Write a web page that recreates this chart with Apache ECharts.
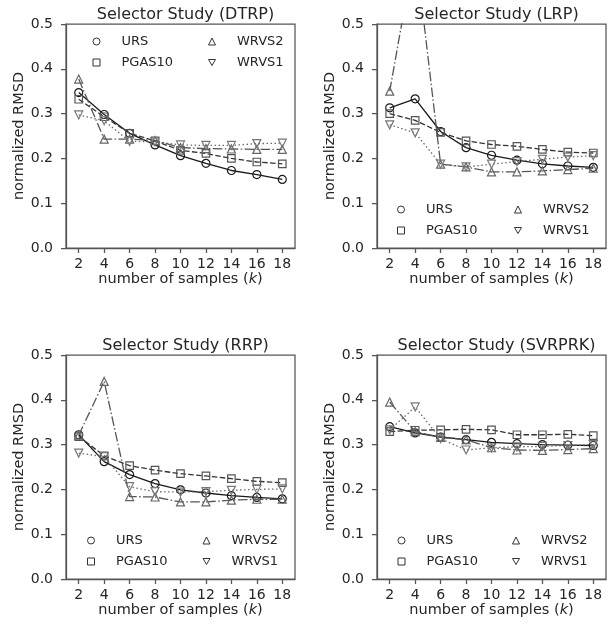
<!DOCTYPE html>
<html>
<head>
<meta charset="utf-8">
<script src="https://cdn.jsdelivr.net/npm/echarts@6/dist/echarts.min.js"></script>
<style>
html,body{margin:0;padding:0;background:#fff;}
#main{width:616px;height:629px;}
</style>
</head>
<body>
<div id="main"></div>
<script>
// ---- data ----
const xCats = ['2','4','6','8','10','12','14','16','18'];
const yTicks = [0.0, 0.1, 0.2, 0.3, 0.4, 0.5];
const seriesNames = ['URS','PGAS10','WRVS2','WRVS1'];
const panelTitles = ['Selector Study (DTRP)','Selector Study (LRP)','Selector Study (RRP)','Selector Study (SVRPRK)'];

const dtrpURS    = [0.347, 0.298, 0.256, 0.230, 0.206, 0.189, 0.173, 0.164, 0.153];
const dtrpPGAS10 = [0.332, 0.293, 0.256, 0.239, 0.218, 0.211, 0.200, 0.192, 0.188];
const dtrpWRVS2  = [0.377, 0.243, 0.243, 0.240, 0.224, 0.222, 0.221, 0.220, 0.220];
const dtrpWRVS1  = [0.297, 0.284, 0.238, 0.237, 0.230, 0.229, 0.229, 0.233, 0.234];

const lrpURS    = [0.313, 0.333, 0.260, 0.224, 0.207, 0.196, 0.188, 0.183, 0.180];
const lrpPGAS10 = [0.300, 0.285, 0.258, 0.239, 0.231, 0.227, 0.220, 0.214, 0.212];
const lrpWRVS2  = [0.350, 0.670, 0.187, 0.181, 0.170, 0.170, 0.172, 0.175, 0.178];
const lrpWRVS1  = [0.275, 0.257, 0.187, 0.181, 0.187, 0.193, 0.198, 0.203, 0.206];

const rrpURS    = [0.322, 0.262, 0.233, 0.213, 0.199, 0.192, 0.186, 0.182, 0.179];
const rrpPGAS10 = [0.318, 0.275, 0.253, 0.243, 0.235, 0.230, 0.224, 0.218, 0.215];
const rrpWRVS2  = [0.321, 0.441, 0.184, 0.183, 0.172, 0.172, 0.176, 0.178, 0.178];
const rrpWRVS1  = [0.281, 0.273, 0.206, 0.195, 0.194, 0.195, 0.198, 0.200, 0.201];

const svrURS    = [0.340, 0.326, 0.317, 0.311, 0.305, 0.302, 0.300, 0.299, 0.298];
const svrPGAS10 = [0.329, 0.332, 0.333, 0.334, 0.333, 0.322, 0.322, 0.323, 0.320];
const svrWRVS2  = [0.395, 0.329, 0.316, 0.311, 0.293, 0.288, 0.287, 0.289, 0.291];
const svrWRVS1  = [0.333, 0.384, 0.313, 0.288, 0.293, 0.295, 0.296, 0.298, 0.300];

const panelData = [
  [dtrpURS, dtrpPGAS10, dtrpWRVS2, dtrpWRVS1],
  [lrpURS, lrpPGAS10, lrpWRVS2, lrpWRVS1],
  [rrpURS, rrpPGAS10, rrpWRVS2, rrpWRVS1],
  [svrURS, svrPGAS10, svrWRVS2, svrWRVS1]
];

// ---- styles / layout ----
const FONT = 'DejaVu Sans';
const TXT = '#262626';
const SPINE = '#555555';
const styles = [
  {symbol:'circle', size:8, line:'#1a1a1a', edge:'#1a1a1a', dash:'solid'},
  {symbol:'rect', size:7.5, line:'#333333', edge:'#555555', dash:[5.5,2.4]},
  {symbol:'triangle', size:8, line:'#555555', edge:'#666666', dash:[9.6,2.4,1.5,2.4]},
  {symbol:'path://M0,0L20,0L10,17.3Z', size:8, line:'#6a6a6a', edge:'#777777', dash:[1.5,2.5]}
];
const grids = [
  {left:66, top:24, width:229, height:224},
  {left:377, top:24, width:229, height:224},
  {left:66, top:355, width:229, height:224},
  {left:377, top:355, width:229, height:224}
];
// legend anchor: [col1 left, col2 left, top]
const legendPos = [
  [92.5, 208, 35],
  [397, 514, 203],
  [87, 202.5, 534],
  [397.5, 512, 534]
];

const option = {
  backgroundColor:'#fff',
  animation:false,
  title:[], grid:[], xAxis:[], yAxis:[], series:[], legend:[]
};

grids.forEach((g, i) => {
  option.grid.push(Object.assign({show:true, borderColor:SPINE, borderWidth:1.25, backgroundColor:'transparent'}, g));
  option.title.push({
    text: panelTitles[i], left: g.left + g.width/2, top: g.top - 22, textAlign:'center',
    textStyle:{fontFamily:FONT, fontSize:16, fontWeight:'normal', color:TXT}
  });
  option.xAxis.push({
    type:'category', gridIndex:i, data:xCats, boundaryGap:true,
    name:'number of samples ({it|k})', nameLocation:'middle', nameGap:20,
    nameTextStyle:{fontFamily:FONT, fontSize:14.5, color:TXT,
      rich:{it:{fontStyle:'italic', fontFamily:FONT, fontSize:14.5, color:TXT}}},
    axisLine:{show:true, lineStyle:{color:SPINE, width:1.25}},
    axisTick:{show:true, alignWithLabel:true, length:5, lineStyle:{color:SPINE, width:1.25}},
    axisLabel:{fontFamily:FONT, fontSize:14, color:TXT, margin:9, interval:0},
    splitLine:{show:false}
  });
  option.yAxis.push({
    type:'value', gridIndex:i, min:0, max:0.5, interval:0.1,
    name:'normalized RMSD', nameLocation:'middle', nameGap:35,
    nameTextStyle:{fontFamily:FONT, fontSize:14.5, color:TXT},
    axisLine:{show:true, lineStyle:{color:SPINE, width:1.25}},
    axisTick:{show:true, length:5, lineStyle:{color:SPINE, width:1.25}},
    axisLabel:{fontFamily:FONT, fontSize:14, color:TXT, margin:13, formatter:v => v.toFixed(1)},
    splitLine:{show:false}
  });
  seriesNames.forEach((nm, s) => {
    const st = styles[s];
    option.series.push({
      type:'line', name:nm, xAxisIndex:i, yAxisIndex:i,
      data: panelData[i][s], clip:true,
      symbol: st.symbol, symbolSize: st.size, showAllSymbol:true,
      lineStyle:{color:st.line, width:1.3, type:st.dash},
      itemStyle:{color:'rgba(255,255,255,0)', borderColor:st.edge, borderWidth:1.2},
      emphasis:{disabled:true}, silent:true, z: 2 + s
    });
  });
  const lp = legendPos[i];
  const mk = (names) => names.map(nm => {
    const st = styles[seriesNames.indexOf(nm)];
    return {name:nm, icon:st.symbol,
      itemStyle:{color:'rgba(255,255,255,0)', borderColor:'#333', borderWidth:1}};
  });
  [[['URS','PGAS10'], lp[0]], [['WRVS2','WRVS1'], lp[1]]].forEach(([names, left]) => {
    option.legend.push({
      orient:'vertical', left:left, top:lp[2], itemWidth:7, itemHeight:7, itemGap:8,
      selectedMode:false, padding:0,
      data: mk(names),
      textStyle:{fontFamily:FONT, fontSize:13, color:TXT, padding:[0,0,0,16.5]}
    });
  });
});

const chart = echarts.init(document.getElementById('main'), null, {renderer:'canvas'});
chart.setOption(option);
</script>
</body>
</html>
